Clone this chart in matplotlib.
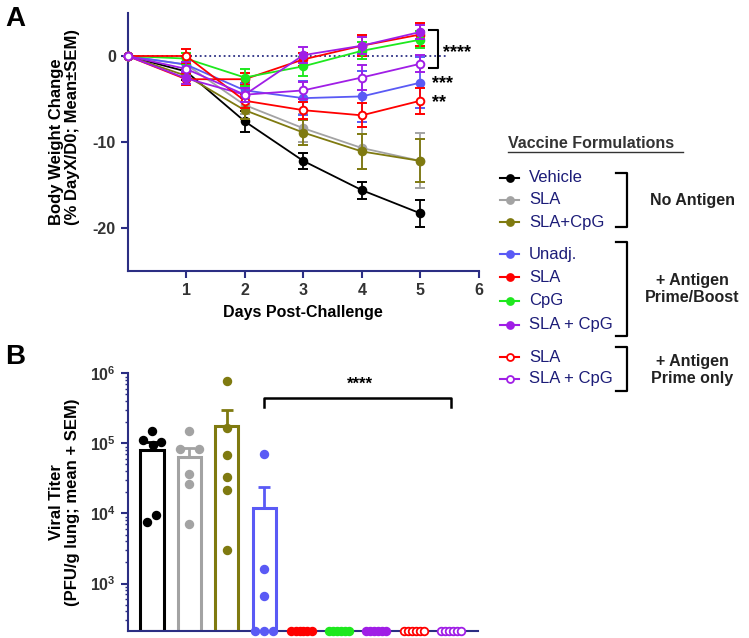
import matplotlib
matplotlib.use('Agg')
import matplotlib.pyplot as plt
from matplotlib.ticker import FixedFormatter
import numpy as np

plt.rcParams['font.family'] = ['Liberation Sans', 'DejaVu Sans']
plt.rcParams['font.weight'] = 'bold'
plt.rcParams['axes.unicode_minus'] = False
plt.rcParams['mathtext.fontset'] = 'custom'
plt.rcParams['mathtext.bf'] = 'Liberation Sans:bold'
plt.rcParams['mathtext.rm'] = 'Liberation Sans:bold'

### data ###
days = [0, 1, 2, 3, 4, 5]
labels = ['Vehicle', 'SLA', 'SLA+CpG', 'Unadj.', 'SLA', 'CpG', 'SLA + CpG', 'SLA', 'SLA + CpG']
colors = ['#000000', '#a3a3a3', '#7f7a10', '#5a5af5', '#ff0000', '#1ee81e', '#a01ee6', '#ff0000', '#a01ee6']
hollow = [False, False, False, False, False, False, False, True, True]

# body weight change, % of day 0 (mean, SEM)
bw_vehicle = [0, -1.8, -7.6, -12.2, -15.6, -18.3]
bw_sla = [0, -1.0, -5.7, -8.4, -10.7, -12.2]
bw_slacpg = [0, -2.3, -6.3, -8.9, -11.1, -12.2]
bw_unadj = [0, -1.0, -4.0, -4.9, -4.7, -3.1]
bw_pb_sla = [0, -2.7, -2.7, -0.4, 1.2, 2.5]
bw_pb_cpg = [0, -0.3, -2.5, -1.2, 0.6, 1.9]
bw_pb_slacpg = [0, -2.6, -4.5, 0.1, 1.2, 2.8]
bw_po_sla = [0, 0.0, -5.2, -6.3, -6.9, -5.2]
bw_po_slacpg = [0, -1.5, -4.5, -4.0, -2.5, -0.9]

sem_vehicle = [0, 1.0, 1.2, 0.9, 1.0, 1.6]
sem_sla = [0, 0.8, 1.0, 1.6, 2.4, 3.2]
sem_slacpg = [0, 0.9, 1.0, 1.5, 2.0, 2.5]
sem_unadj = [0, 0.8, 0.9, 2.0, 3.0, 3.0]
sem_pb_sla = [0, 0.7, 0.7, 0.8, 1.2, 1.3]
sem_pb_cpg = [0, 0.6, 1.0, 1.1, 1.0, 1.0]
sem_pb_slacpg = [0, 0.7, 0.8, 0.9, 1.0, 0.8]
sem_po_sla = [0, 0.8, 0.8, 1.0, 1.4, 1.5]
sem_po_slacpg = [0, 0.8, 0.8, 1.0, 1.4, 1.0]

bw_means = [bw_vehicle, bw_sla, bw_slacpg, bw_unadj, bw_pb_sla, bw_pb_cpg,
            bw_pb_slacpg, bw_po_sla, bw_po_slacpg]
bw_sems = [sem_vehicle, sem_sla, sem_slacpg, sem_unadj, sem_pb_sla, sem_pb_cpg,
           sem_pb_slacpg, sem_po_sla, sem_po_slacpg]

# viral titer, PFU/g lung, per mouse (0 = below detection)
vt_vehicle = [150000, 110000, 105000, 95000, 9500, 7500]
vt_sla = [150000, 82000, 82000, 36000, 26000, 7000]
vt_slacpg = [780000, 164000, 68000, 33000, 21500, 3000]
vt_unadj = [70000, 1600, 660, 0, 0, 0]
vt_pb_sla = [0, 0, 0, 0, 0, 0]
vt_pb_cpg = [0, 0, 0, 0, 0, 0]
vt_pb_slacpg = [0, 0, 0, 0, 0, 0]
vt_po_sla = [0, 0, 0, 0, 0, 0]
vt_po_slacpg = [0, 0, 0, 0, 0, 0]
titers = [vt_vehicle, vt_sla, vt_slacpg, vt_unadj, vt_pb_sla, vt_pb_cpg,
          vt_pb_slacpg, vt_po_sla, vt_po_slacpg]
titer_ticks = [1e3, 1e4, 1e5, 1e6]
titer_ticklabels = [r'$\mathbf{10^{3}}$', r'$\mathbf{10^{4}}$', r'$\mathbf{10^{5}}$', r'$\mathbf{10^{6}}$']

# horizontal jitter of the dots (layout only)
jit_vehicle = [0, -0.25, 0.25, 0.02, 0.12, -0.12]
jit_sla = [0, -0.25, 0.25, 0, 0, 0]
jit_top = [0, 0, 0, 0, 0, 0]
jit_unadj = [0, 0, 0, -0.25, 0, 0.24]
jit_row = [-0.27, -0.16, -0.05, 0.05, 0.16, 0.27]
jitters = [jit_vehicle, jit_sla, jit_top, jit_unadj, jit_row, jit_row, jit_row, jit_row, jit_row]

NAVY = '#2b2e83'
TXT = '#333333'
FONT = 11.5

fig = plt.figure(figsize=(7.49, 6.38), dpi=100)

def px_axes(x0, y0, x1, y1):
    return fig.add_axes([x0 / 749, 1 - y1 / 638, (x1 - x0) / 749, (y1 - y0) / 638])

def style_axes(ax):
    for s in ['top', 'right']:
        ax.spines[s].set_visible(False)
    for s in ['left', 'bottom']:
        ax.spines[s].set_color(NAVY)
        ax.spines[s].set_linewidth(1.5)
    ax.tick_params(colors=NAVY, labelcolor=TXT, labelsize=FONT, width=1.5, length=5)

### panel A ###
axA = px_axes(127.6, 13, 479, 271)
axA.set_xlim(0, 6)
axA.set_ylim(-25, 5)
axA.plot([0, 5.45], [0, 0], linestyle=':', color=NAVY, lw=1.3, clip_on=False, zorder=1)
for i in range(len(labels)):
    fc = 'white' if hollow[i] else colors[i]
    axA.errorbar(days, bw_means[i], yerr=bw_sems[i], color=colors[i], lw=1.3,
                 marker='o', ms=5.5, mfc=fc, mec=colors[i], mew=1.4,
                 capsize=3.5, capthick=1.3, elinewidth=1.3, clip_on=False, zorder=3 + i)
axA.set_xticks([1, 2, 3, 4, 5, 6])
axA.set_yticks([0, -10, -20])
axA.set_xlabel('Days Post-Challenge', fontsize=FONT, fontweight='bold', color='black', labelpad=5)
axA.set_ylabel('Body Weight Change\n(% DayX/D0; Mean\u00b1SEM)', fontsize=12, fontweight='bold',
               color='black', va='center', linespacing=1.1, multialignment='left')
axA.yaxis.set_label_coords(-0.18, 0.56)
style_axes(axA)

# significance marks
axA.plot([5.15, 5.3, 5.3, 5.15], [3.0, 3.0, -1.4, -1.4], color='black', lw=1.5, clip_on=False)
axA.text(5.38, 0.4, '****', fontsize=13, fontweight='bold', va='center', ha='left', clip_on=False)
axA.text(5.2, -3.2, '***', fontsize=13, fontweight='bold', va='center', ha='left', clip_on=False)
axA.text(5.2, -5.4, '**', fontsize=13, fontweight='bold', va='center', ha='left', clip_on=False)

### panel B ###
floor = 210
axB = px_axes(127.6, 373.3, 478, 631)
axB.set_yscale('log')
axB.set_ylim(floor, 1e6)
axB.set_xlim(-0.65, 8.72)
xpos = np.arange(len(labels))
for i in range(len(labels)):
    vals = np.array(titers[i], dtype=float)
    m = vals.mean()
    sem = vals.std(ddof=1) / np.sqrt(len(vals))
    if m > floor:
        axB.bar(xpos[i], m - floor, bottom=floor, width=0.62, facecolor='none',
                edgecolor=colors[i], lw=2.2, zorder=2)
        axB.errorbar(xpos[i], m, yerr=[[0], [sem]], color=colors[i], lw=2.0,
                     capsize=4, capthick=2.0, zorder=2)
    yv = np.where(vals > 0, vals, floor)
    fc = 'white' if hollow[i] else colors[i]
    axB.scatter(xpos[i] + np.array(jitters[i]), yv, s=30, facecolor=fc,
                edgecolor=colors[i], linewidth=1.3, zorder=4, clip_on=False)
axB.set_xticks([])
axB.set_yticks(titer_ticks)
axB.yaxis.set_major_formatter(FixedFormatter(titer_ticklabels))
axB.tick_params(axis='y', which='minor', colors=NAVY, length=2.5, width=1)
axB.set_ylabel('Viral Titer\n(PFU/g lung; mean + SEM)', fontsize=12, fontweight='bold',
               color='black', va='center', linespacing=1.1)
axB.yaxis.set_label_coords(-0.18, 0.5)
style_axes(axB)
axB.spines['bottom'].set_zorder(3)

axB.plot([3, 3, 8, 8], [3.3e5, 4.4e5, 4.4e5, 3.3e5], color='black', lw=1.8, clip_on=False)
axB.text(5.55, 7.0e5, '****', fontsize=12, fontweight='bold', ha='center', va='center')

### legend (drawn in pixel space) ###
lg = fig.add_axes([0, 0, 1, 1])
lg.set_xlim(0, 749)
lg.set_ylim(638, 0)
lg.axis('off')
rows = [178, 200, 222, 254, 277, 301, 325, 357, 379]
lg.text(508, 143, 'Vaccine Formulations', fontsize=11.5, fontweight='bold', color=TXT,
        va='center', ha='left')
lg.plot([508, 683], [152, 152], color=TXT, lw=1)
for i in range(len(labels)):
    fc = 'white' if hollow[i] else colors[i]
    lg.plot([500, 519], [rows[i], rows[i]], color=colors[i], lw=1.5)
    lg.plot([510], [rows[i]], marker='o', ms=5, mfc=fc, mec=colors[i], mew=1.3)
    lg.text(529, rows[i], labels[i], fontsize=12, fontweight='normal', color='#1c1c78',
            va='center', ha='left')
for y0, y1 in [(173, 227), (242, 336), (347, 391)]:
    lg.plot([616, 627, 627, 616], [y0, y0, y1, y1], color='black', lw=1.6)
lg.text(692, 200, 'No Antigen', fontsize=11.5, fontweight='bold', color='#222222', ha='center', va='center')
lg.text(692, 289, '+ Antigen\nPrime/Boost', fontsize=11.5, fontweight='bold', color='#222222',
        ha='center', va='center', linespacing=1.15)
lg.text(692, 370, '+ Antigen\nPrime only', fontsize=11.5, fontweight='bold', color='#222222',
        ha='center', va='center', linespacing=1.15)

fig.text(5 / 749, 1 - 19 / 638, 'A', fontsize=20, fontweight='bold', va='center', ha='left')
fig.text(5 / 749, 1 - 357 / 638, 'B', fontsize=20, fontweight='bold', va='center', ha='left')

fig.savefig('out.png', dpi=100)
